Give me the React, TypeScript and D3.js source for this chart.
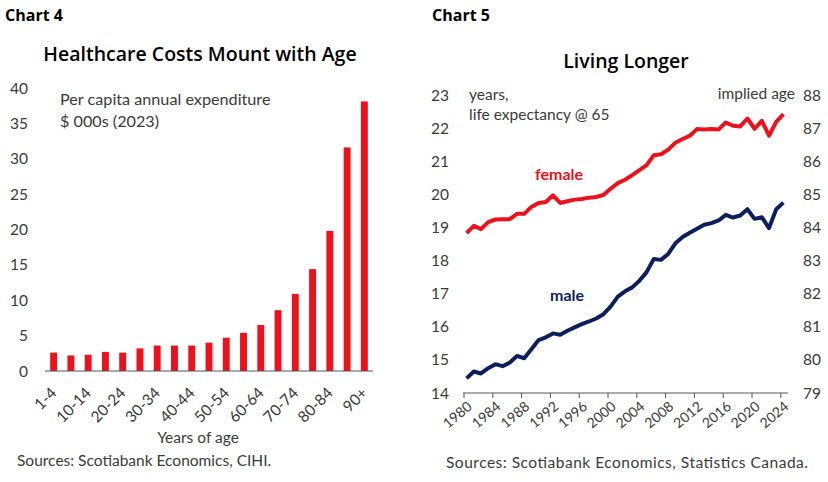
import React from "react";
import * as d3 from "d3";

// Chart 4: per capita healthcare spending by age group ($000s, 2023)
const ageGroups = [
  "1-4", "5-9", "10-14", "15-19", "20-24", "25-29", "30-34", "35-39", "40-44",
  "45-49", "50-54", "55-59", "60-64", "65-69", "70-74", "75-79", "80-84", "85-89", "90+",
];
const spending = [
  2.6, 2.2, 2.3, 2.7, 2.6, 3.2, 3.6, 3.6, 3.6, 4.0, 4.7, 5.4, 6.5, 8.6, 10.9, 14.4, 19.8, 31.6, 38.1,
];
const ageLabels = ["1-4", "10-14", "20-24", "30-34", "40-44", "50-54", "60-64", "70-74", "80-84", "90+"];
const spendTicks = [0, 5, 10, 15, 20, 25, 30, 35, 40];

// Chart 5: life expectancy at 65
const years = d3.range(1980, 2025);
const female = [
  18.83, 19.05, 18.95, 19.16, 19.24, 19.25, 19.25, 19.41, 19.41, 19.62,
  19.74, 19.77, 19.97, 19.74, 19.79, 19.84, 19.86, 19.9, 19.92, 19.98,
  20.17, 20.34, 20.44, 20.58, 20.73, 20.88, 21.18, 21.21, 21.35, 21.56,
  21.67, 21.77, 21.97, 21.96, 21.97, 21.96, 22.17, 22.07, 22.05, 22.29,
  21.98, 22.22, 21.77, 22.19, 22.42,
];
const male = [
  14.44, 14.65, 14.59, 14.75, 14.87, 14.81, 14.92, 15.12, 15.05, 15.32,
  15.6, 15.68, 15.8, 15.76, 15.88, 15.98, 16.08, 16.16, 16.25, 16.38,
  16.61, 16.91, 17.07, 17.19, 17.39, 17.65, 18.05, 18.02, 18.2, 18.52,
  18.71, 18.84, 18.96, 19.08, 19.13, 19.21, 19.38, 19.3, 19.36, 19.55,
  19.26, 19.31, 18.98, 19.55, 19.75,
];
const yearTicks = [1980, 1984, 1988, 1992, 1996, 2000, 2004, 2008, 2012, 2016, 2020, 2024];
const lifeTicks = [14, 15, 16, 17, 18, 19, 20, 21, 22, 23];
const ageTicks = [79, 80, 81, 82, 83, 84, 85, 86, 87, 88];

const RED = "#ec111a";
const NAVY = "#0b1f5c";
const TXT = "#3a3a3a";
const FONT = "Lato, 'Open Sans', sans-serif";
const HEAD = "'Open Sans', Lato, sans-serif";

function HealthChart() {
  const x = d3.scaleBand().domain(ageGroups).range([45, 373]).paddingInner(0.6).paddingOuter(0.3);
  const y = d3.scaleLinear().domain([0, 40]).range([371, 88]);
  return (
    <g>
      <text x={5} y={21} fontFamily={HEAD} fontSize={16} fontWeight="bold" fill="#000">Chart 4</text>
      <text x={200} y={61} fontFamily={HEAD} fontSize={19.5} fontWeight={600} textAnchor="middle" fill="#000">
        Healthcare Costs Mount with Age
      </text>
      {spendTicks.map((t) => (
        <text key={t} x={28} y={y(t)} dy="0.36em" fontSize={15.5} textAnchor="end" fill={TXT}>{t}</text>
      ))}
      <text x={60} y={105} fontSize={16.2} fill={TXT}>Per capita annual expenditure</text>
      <text x={60} y={127} fontSize={16.2} fill={TXT}>$ 000s (2023)</text>
      {ageGroups.map((g, i) => (
        <rect key={g} x={x(g)} y={y(spending[i])} width={x.bandwidth()} height={y(0) - y(spending[i])} fill={RED} />
      ))}
      <line x1={45} x2={373} y1={y(0)} y2={y(0)} stroke="#555" strokeWidth={1} />
      {ageLabels.map((g) => {
        const cx = (x(g) as number) + x.bandwidth() / 2 + 4;
        return (
          <text key={g} x={cx} y={394} fontSize={15.5} textAnchor="end" fill={TXT}
            transform={`rotate(-45 ${cx} 394)`}>{g}</text>
        );
      })}
      <text x={198} y={443} fontSize={15.5} textAnchor="middle" fill={TXT}>Years of age</text>
      <text x={17} y={466} fontSize={15.5} fill={TXT}>Sources: Scotiabank Economics, CIHI.</text>
    </g>
  );
}

function LifeChart() {
  const x = d3.scaleBand<number>().domain(years).range([463, 787]);
  const half = x.bandwidth() / 2;
  const y = d3.scaleLinear().domain([14, 23]).range([393, 95]);
  const yR = d3.scaleLinear().domain([79, 88]).range([393, 95]);
  const line = d3.line<number>()
    .x((_, i) => (x(years[i]) as number) + half)
    .y((d) => y(d));
  return (
    <g>
      <text x={432} y={21} fontFamily={HEAD} fontSize={16} fontWeight="bold" fill="#000">Chart 5</text>
      <text x={626} y={68} fontFamily={HEAD} fontSize={19.5} fontWeight={600} textAnchor="middle" fill="#000">
        Living Longer
      </text>
      {lifeTicks.map((t) => (
        <text key={t} x={449} y={y(t)} dy="0.36em" fontSize={15.5} textAnchor="end" fill={TXT}>{t}</text>
      ))}
      {ageTicks.map((t) => (
        <text key={t} x={803} y={yR(t)} dy="0.36em" fontSize={15.5} fill={TXT}>{t}</text>
      ))}
      <text x={469} y={100} fontSize={15.5} fill={TXT}>years,</text>
      <text x={469} y={120} fontSize={15.5} fill={TXT}>life expectancy @ 65</text>
      <text x={795} y={99} fontSize={15.5} textAnchor="end" fill={TXT}>implied age</text>
      <line x1={463} x2={788} y1={393} y2={393} stroke="#555" strokeWidth={1} />
      {yearTicks.map((yr) => {
        const tx = (x(yr) as number) + 1;
        return <line key={yr} x1={tx} x2={tx} y1={393} y2={398} stroke="#555" strokeWidth={1} />;
      })}
      {yearTicks.map((yr) => {
        const tx = (x(yr) as number) + 10;
        return (
          <text key={yr} x={tx} y={408} fontSize={14} textAnchor="end" fill={TXT}
            transform={`rotate(-40 ${tx} 408)`}>{yr}</text>
        );
      })}
      <path d={line(female) ?? ""} fill="none" stroke={RED} strokeWidth={4} strokeLinejoin="round" />
      <path d={line(male) ?? ""} fill="none" stroke={NAVY} strokeWidth={4} strokeLinejoin="round" />
      <text x={535} y={180} fontSize={16} fontWeight="bold" fill={RED}>female</text>
      <text x={550} y={301} fontSize={16} fontWeight="bold" fill={NAVY}>male</text>
      <text x={446} y={468} fontSize={15.5} fill={TXT} textLength={362} lengthAdjust="spacing">
        Sources: Scotiabank Economics, Statistics Canada.
      </text>
    </g>
  );
}

export default function App() {
  return (
    <svg width={828} height={482} fontFamily={FONT}
      style={{ position: "absolute", left: 0, top: 0, background: "#fff" }}>
      <rect width={828} height={482} fill="#fff" />
      <HealthChart />
      <LifeChart />
    </svg>
  );
}
